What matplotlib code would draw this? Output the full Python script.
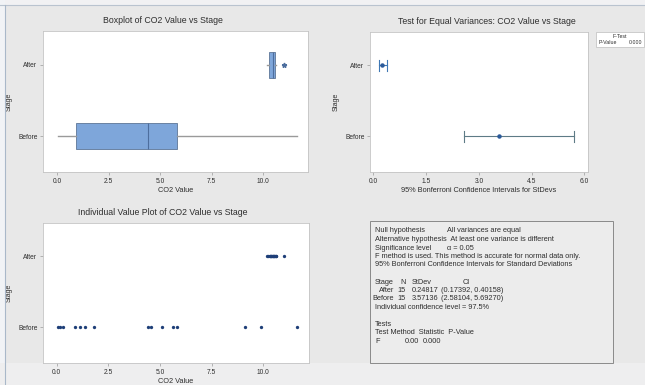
import numpy as np
import matplotlib
matplotlib.use("Agg")
import matplotlib.pyplot as plt
from matplotlib.patches import Rectangle

plt.rcParams['font.family'] = ['Liberation Sans', 'DejaVu Sans']

# CO2 readings per stage
stages = ["Before", "After"]
before = [0.05, 0.15, 0.3, 0.9, 1.15, 1.35, 1.8, 4.4, 4.55, 5.1,
          5.65, 5.8, 9.1, 9.9, 11.65]
after = [10.2, 10.25, 10.3, 10.3, 10.35, 10.35, 10.4, 10.45, 10.45,
         10.5, 10.5, 10.55, 10.6, 10.6, 11.0]

# standard deviations and 95% Bonferroni intervals
sd_n = [15, 15]
sd_value = [3.57136, 0.24817]
sd_low = [2.58104, 0.17392]
sd_high = [5.69270, 0.40158]
p_value = 0.000

x_ticks = [0.0, 2.5, 5.0, 7.5, 10.0]
sd_ticks = [0.0, 1.5, 3.0, 4.5, 6.0]

W, H = 645, 385
BG = '#e8e8e8'
SPINE = '#c4c4c4'
TXT = '#2e2e2e'


def rect(l, t, r, b):
    return [l / W, 1 - b / H, (r - l) / W, (b - t) / H]


def style(ax, title, title_x, xlabel, ylab_x):
    ax.set_facecolor('white')
    for s in ax.spines.values():
        s.set_color(SPINE)
        s.set_linewidth(0.6)
    ax.tick_params(labelsize=4.8, length=2, width=0.5, color='#999999',
                   labelcolor=TXT, pad=2)
    ax.set_title(title, fontsize=6.3, color=TXT, pad=6, x=title_x)
    ax.set_xlabel(xlabel, fontsize=5.3, color=TXT, labelpad=2)
    ax.set_ylabel("Stage", fontsize=5.0, color=TXT)
    ax.yaxis.set_label_coords(ylab_x, 0.5)
    ax.set_yticks([1, 2])
    ax.set_yticklabels(stages)
    ax.set_ylim(0.5, 2.47)


def quartile_stats(vals, label):
    v = np.sort(np.array(vals))
    q1, med, q3 = np.percentile(v, [25, 50, 75], method='weibull')
    iqr = q3 - q1
    lo_fence, hi_fence = q1 - 1.5 * iqr, q3 + 1.5 * iqr
    inside = v[(v >= lo_fence) & (v <= hi_fence)]
    fliers = v[(v < lo_fence) | (v > hi_fence)]
    return dict(label=label, med=med, q1=q1, q3=q3,
                whislo=inside.min(), whishi=inside.max(), fliers=fliers)


fig = plt.figure(figsize=(W / 100, H / 100), dpi=100, facecolor=BG)

# window frame
fig.patches.append(Rectangle((0, 1 - 5 / H), 1, 5 / H, transform=fig.transFigure,
                             facecolor='#f1f1f3', edgecolor='none', zorder=-2))
fig.patches.append(Rectangle((0, 0), 5 / W, 1, transform=fig.transFigure,
                             facecolor='#f1f3f6', edgecolor='none', zorder=-2))
fig.add_artist(plt.Line2D([0, 1], [1 - 5 / H, 1 - 5 / H], transform=fig.transFigure,
                          color='#b9c3cf', lw=0.8))
fig.add_artist(plt.Line2D([5 / W, 5 / W], [0, 1 - 5 / H], transform=fig.transFigure,
                          color='#a9b8c9', lw=0.8))
fig.patches.append(Rectangle((0, 0), 1, 22 / H, transform=fig.transFigure,
                             facecolor='#eeeeef', edgecolor='none', zorder=-2))

# Boxplot
ax1 = fig.add_axes(rect(43, 31, 308, 172))
stats = [quartile_stats(before, "Before"), quartile_stats(after, "After")]
ax1.bxp(stats, positions=[1, 2], orientation='horizontal', widths=0.36,
        showcaps=False, patch_artist=True,
        boxprops=dict(facecolor='#7ea6da', edgecolor='#5d7596', linewidth=0.6),
        medianprops=dict(color='#4d6e9e', linewidth=0.8),
        whiskerprops=dict(color='#9a9a9a', linewidth=1.0),
        flierprops=dict(marker='*', markersize=3.5, markerfacecolor='#4d6e9e',
                        markeredgecolor='#4d6e9e', linestyle='none'))
ax1.set_xlim(-0.69, 12.17)
ax1.set_xticks(x_ticks)
style(ax1, "Boxplot of CO2 Value vs Stage", 0.453, "CO2 Value", -0.113)

# Test for equal variances
ax2 = fig.add_axes(rect(370, 32, 588, 172))
ci_colors = ['#5e7b86', '#3f78b5']
for i, st in enumerate(stages):
    y = i + 1
    ax2.plot([sd_low[i], sd_high[i]], [y, y], color=ci_colors[i], lw=0.8)
    ax2.plot([sd_low[i], sd_low[i]], [y - 0.08, y + 0.08], color=ci_colors[i], lw=0.8)
    ax2.plot([sd_high[i], sd_high[i]], [y - 0.08, y + 0.08], color=ci_colors[i], lw=0.8)
    ax2.plot(sd_value[i], y, 'o', color='#2b5a9a', markersize=2.2)
ax2.set_xlim(-0.094, 6.1)
ax2.set_xticks(sd_ticks)
style(ax2, "Test for Equal Variances: CO2 Value vs Stage", 0.537,
      "95% Bonferroni Confidence Intervals for StDevs", -0.138)

# Individual value plot
ax3 = fig.add_axes(rect(43, 223, 309, 363))
for i, vals in enumerate([before, after]):
    ax3.plot(vals, [i + 1] * len(vals), 'o', color='#1e3f78',
             markersize=2.4, markeredgewidth=0)
ax3.set_xlim(-0.66, 12.21)
ax3.set_xticks(x_ticks)
style(ax3, "Individual Value Plot of CO2 Value vs Stage", 0.451, "CO2 Value", -0.113)

# Legend box
lx0, ly0, lx1, ly1 = 596, 32, 644, 47
fig.patches.append(Rectangle((lx0 / W, 1 - ly1 / H), (lx1 - lx0) / W, (ly1 - ly0) / H,
                             transform=fig.transFigure, facecolor='white',
                             edgecolor='#bdbdbd', linewidth=0.5))
fig.text((lx0 + lx1) / 2 / W, 1 - 36.5 / H, "F-Test", fontsize=3.8, color=TXT,
         ha='center', va='center')
fig.text((lx0 + 3) / W, 1 - 42.5 / H, "P-Value", fontsize=3.8, color=TXT,
         ha='left', va='center')
fig.text((lx1 - 2) / W, 1 - 42.5 / H, f"{p_value:.3f}", fontsize=3.8, color=TXT,
         ha='right', va='center')

# Session summary box
bx0, by0, bx1, by1 = 370, 221, 613, 363
fig.patches.append(Rectangle((bx0 / W, 1 - by1 / H), (bx1 - bx0) / W, (by1 - by0) / H,
                             transform=fig.transFigure, facecolor='#ececec',
                             edgecolor='#8a8a8a', linewidth=0.7))
f_stat = (sd_value[1] / sd_value[0]) ** 2
FS = 5.3
step = 8.5


def row(k, cells):
    # cells: list of (x pixel, text, alignment)
    y = 1 - (231 + k * step) / H
    for x, s, ha in cells:
        fig.text(x / W, y, s, fontsize=FS, color=TXT, ha=ha, va='center')


row(0, [(375, "Null hypothesis", 'left'), (447, "All variances are equal", 'left')])
row(1, [(375, "Alternative hypothesis  At least one variance is different", 'left')])
row(2, [(375, "Significance level", 'left'), (447, "\u03b1 = 0.05", 'left')])
row(3, [(375, "F method is used. This method is accurate for normal data only.", 'left')])
row(4, [(375, "95% Bonferroni Confidence Intervals for Standard Deviations", 'left')])
row(6, [(394, "Stage", 'right'), (406, "N", 'right'), (412, "StDev", 'left'),
        (466, "CI", 'center')])
for k, i in [(7, 1), (8, 0)]:
    row(k, [(394, stages[i], 'right'), (406, str(sd_n[i]), 'right'),
            (412, f"{sd_value[i]:.5f}", 'left'),
            (441, f"({sd_low[i]:.5f}, {sd_high[i]:.5f})", 'left')])
row(9, [(375, "Individual confidence level = 97.5%", 'left')])
row(11, [(375, "Tests", 'left')])
row(12, [(375, "Test Method  Statistic  P-Value", 'left')])
row(13, [(375, "F", 'left'), (405, f"{f_stat:.2f}", 'left'),
         (423, f"{p_value:.3f}", 'left')])

fig.savefig("out.png", dpi=100, facecolor=BG)
